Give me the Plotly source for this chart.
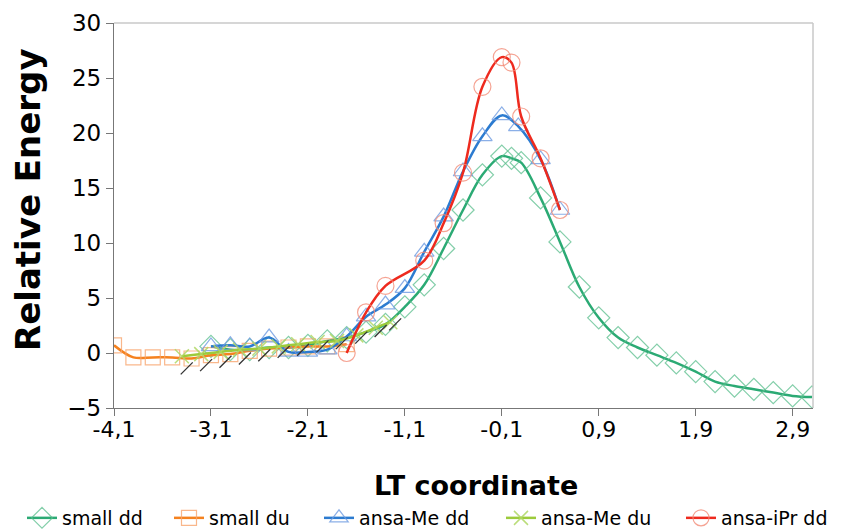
import plotly.graph_objects as go

# ---- data ----
small_dd_x = [-3.1, -2.9, -2.7, -2.5, -2.3, -2.1, -1.9, -1.7, -1.5, -1.3, -1.1, -0.9, -0.7, -0.5, -0.3,
              -0.1, 0.0, 0.1, 0.3, 0.5, 0.7, 0.9, 1.1, 1.3, 1.5, 1.7, 1.9, 2.1, 2.3, 2.5, 2.7, 2.9, 3.1]
small_dd_y = [0.6, 0.3, 0.3, 0.5, 0.5, 0.7, 1.1, 1.4, 1.9, 2.6, 4.2, 6.2, 9.5, 13.0, 16.2,
              17.9, 17.7, 17.3, 14.1, 10.1, 6.0, 3.2, 1.4, 0.5, -0.2, -0.9, -1.7, -2.6, -3.0, -3.3, -3.6, -3.9, -4.0]

small_du_x = [-4.1, -3.9, -3.7, -3.5, -3.3, -3.1, -2.9, -2.7, -2.5, -2.3, -2.1, -1.9, -1.7]
small_du_y = [0.7, -0.4, -0.4, -0.4, -0.5, -0.2, -0.1, 0.2, 0.4, 0.5, 0.6, 0.6, 0.8]

ansa_me_dd_x = [-3.1, -2.9, -2.7, -2.5, -2.3, -2.1, -1.9, -1.7, -1.5, -1.3, -1.1, -0.9, -0.7, -0.5,
                -0.3, -0.1, 0.07, 0.3, 0.5]
ansa_me_dd_y = [0.6, 0.7, 0.6, 1.4, 0.1, 0.1, 0.3, 1.5, 3.3, 4.4, 5.9, 9.2, 12.4, 16.5,
                19.7, 21.6, 20.6, 17.6, 13.0]

ansa_me_du_x = [-3.4, -3.2, -3.0, -2.8, -2.6, -2.4, -2.2, -2.0, -1.8, -1.6, -1.4, -1.25]
ansa_me_du_y = [-0.3, -0.1, 0.1, 0.3, 0.4, 0.6, 0.8, 1.0, 1.1, 1.6, 2.3, 2.8]

ansa_me_du_mark_x = [-3.35, -3.15, -2.95, -2.75, -2.55, -2.35, -2.15, -1.95, -1.75, -1.55, -1.35, -1.2]
ansa_me_du_mark_y = [-1.4, -1.1, -0.8, -0.5, -0.2, 0.1, 0.3, 0.6, 0.9, 1.4, 2.0, 2.6]

ansa_ipr_dd_x = [-1.7, -1.5, -1.3, -0.9, -0.7, -0.5, -0.3, -0.1, 0.0, 0.1, 0.3, 0.5]
ansa_ipr_dd_y = [0.0, 3.7, 6.1, 8.4, 11.8, 16.4, 24.2, 26.9, 26.4, 21.5, 17.7, 13.0]

x_tick_vals = [-4.1, -3.1, -2.1, -1.1, -0.1, 0.9, 1.9, 2.9]
x_tick_text = ["-4,1", "-3,1", "-2,1", "-1,1", "-0,1", "0,9", "1,9", "2,9"]
y_tick_vals = [-5, 0, 5, 10, 15, 20, 25, 30]

FONT = "DejaVu Sans"
W, H = 841, 531
ML, MR, MT, MB = 114, 28, 23, 123
PH = H - MT - MB

fig = go.Figure()

def add(name, x, y, color, mcolor, symbol, legend, size=15, mwidth=1.2):
    fig.add_trace(go.Scatter(
        x=x, y=y, name=name, mode="lines+markers", legend=legend,
        line=dict(color=color, width=2.5, shape="spline", smoothing=1),
        marker=dict(symbol=symbol, size=size, color=mcolor, line=dict(color=mcolor, width=mwidth)),
    ))

add("small dd", small_dd_x, small_dd_y, "#2BAA74", "rgba(90,190,140,0.75)", "diamond-open", "legend", 17)
add("small du", small_du_x, small_du_y, "#F5821F", "rgba(248,165,110,0.8)", "square-open", "legend2", 15)
add("ansa-Me dd", ansa_me_dd_x, ansa_me_dd_y, "#2C7BD0", "rgba(110,155,225,0.8)", "triangle-up-open", "legend3", 17)
add("ansa-Me du", ansa_me_du_x, ansa_me_du_y, "#9CCB3B", "rgba(175,215,100,0.85)", "x-thin-open", "legend4", 14, 1.5)

fig.add_trace(go.Scatter(
    x=ansa_me_du_mark_x, y=ansa_me_du_mark_y, mode="markers", showlegend=False, hoverinfo="skip",
    marker=dict(symbol="line-ne-open", size=12, color="#333333", line=dict(color="#333333", width=1.3)),
))

add("ansa-iPr dd", ansa_ipr_dd_x, ansa_ipr_dd_y, "#EE2A1E", "rgba(243,140,120,0.8)", "circle-open", "legend5", 17)

# one legend box per entry, so each entry sits where the reference puts it
legend_text_starts = [62, 209, 359, 541, 721]
legend_common = dict(orientation="h", xanchor="left", xref="container",
                     y=(408 - 537) / PH, yanchor="bottom", yref="paper",
                     font=dict(size=19, family=FONT), bgcolor="rgba(0,0,0,0)")
legends = {}
for i, tx in enumerate(legend_text_starts):
    key = "legend" if i == 0 else f"legend{i+1}"
    legends[key] = dict(legend_common, x=(tx - 40) / W)

fig.update_layout(
    width=W, height=H,
    margin=dict(l=ML, r=MR, t=MT, b=MB, autoexpand=False),
    paper_bgcolor="white", plot_bgcolor="white",
    font=dict(family=FONT, color="black"),
    showlegend=True,
    **legends,
    xaxis=dict(range=[-4.1, 3.11], tickvals=x_tick_vals, ticktext=x_tick_text, automargin=False,
               showgrid=False, zeroline=False, showline=True, linecolor="#777777", linewidth=1.3,
               ticks="outside", ticklen=7, tickcolor="#777777", ticklabelstandoff=-6,
               tickfont=dict(size=22, family=FONT)),
    yaxis=dict(range=[-5, 30], tickvals=y_tick_vals, automargin=False,
               showgrid=False, zeroline=False, showline=True, linecolor="#777777", linewidth=1.3,
               ticks="outside", ticklen=7, tickcolor="#777777",
               tickfont=dict(size=23, family=FONT)),
    annotations=[
        dict(text="<b>LT coordinate</b>", xref="paper", yref="paper",
             x=(476 - ML) / (W - ML - MR), y=(408 - 485) / PH,
             xanchor="center", yanchor="middle", showarrow=False, font=dict(size=27, family=FONT)),
        dict(text="<b>Relative Energy</b>", xref="paper", yref="paper", textangle=-90,
             x=(28 - ML) / (W - ML - MR), y=(408 - 200) / PH,
             xanchor="center", yanchor="middle", showarrow=False, font=dict(size=34, family=FONT)),
    ],
    shapes=[
        dict(type="line", xref="paper", yref="paper", x0=0, x1=1, y0=1, y1=1,
             line=dict(color="#C8C8C8", width=1.5)),
        dict(type="line", xref="paper", yref="paper", x0=1, x1=1, y0=0, y1=1,
             line=dict(color="#C8C8C8", width=1.5)),
    ],
)

fig.write_html("out.html", config={"displayModeBar": False},
               post_script="document.body.style.margin='0px';")
